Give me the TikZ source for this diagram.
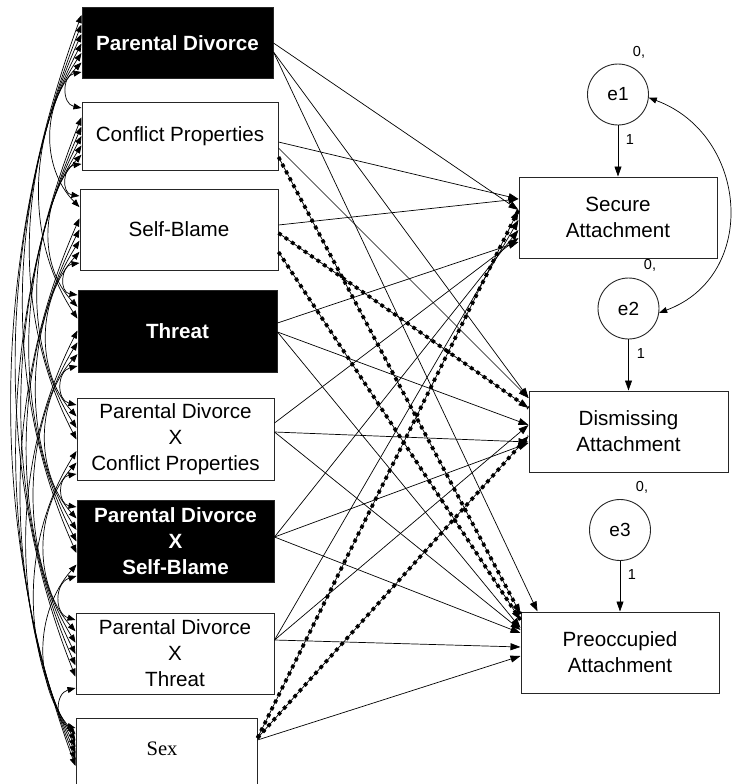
\documentclass[tikz,border=0pt]{standalone}
\usepackage{fontspec}
\setmainfont{Liberation Sans}
\newfontfamily\sexfont{Liberation Serif}
\usetikzlibrary{arrows.meta}
\begin{document}
\begin{tikzpicture}[x=1pt,y=-1pt,
  box/.style={draw=black!85, line width=1pt, fill=white, inner sep=0pt, align=center,
              font=\fontsize{20.6}{26}\selectfont},
  dark/.style={box, fill=black, text=white, font=\fontsize{20.6}{26}\selectfont\bfseries},
  err/.style={circle, draw=black!85, line width=0.9pt, minimum size=61pt, inner sep=0pt,
              font=\fontsize{19}{22}\selectfont},
  numlbl/.style={font=\fontsize{14.5}{16}\selectfont, inner sep=0pt},
  headed/.style={-{Triangle[length=10pt,width=7pt]}},
  reg/.style={draw, line width=0.7pt, headed},
  ns/.style={reg, postaction={draw, -, line width=3.6pt, dash pattern=on 3.6pt off 4.2pt}},
  cov/.style={draw, line width=0.7pt, {Triangle[length=8pt,width=6pt]}-{Triangle[length=8pt,width=6pt]}},
]
\useasboundingbox (0,0) rectangle (735,784);
\clip (0,0) rectangle (735,784);

% predictors
\node[dark, minimum width=191pt, minimum height=70pt] (b1) at (177.5,43) {Parental Divorce};
\node[box,  minimum width=196pt, minimum height=68pt] (b2) at (180,136) {Conflict Properties};
\node[box,  minimum width=198pt, minimum height=81pt] (b3) at (179,229.5) {Self-Blame};
\node[dark, minimum width=199pt, minimum height=82pt] (b4) at (177.5,331) {Threat};
\node[box,  minimum width=197pt, minimum height=82pt] (b5) at (175.5,439) {Parental Divorce\\X\\Conflict Properties};
\node[dark, minimum width=197pt, minimum height=82pt] (b6) at (175.5,541) {Parental Divorce\\X\\Self-Blame};
\node[box,  minimum width=198pt, minimum height=81pt] (b7) at (175,653.5) {Parental Divorce\\X\\Threat};
\node[box,  minimum width=181pt, minimum height=82pt] (b8) at (166.5,759) {};
\node[font=\sexfont\fontsize{20.6}{26}\selectfont, inner sep=0pt] (sexlbl) at (162,749) {Sex};

% outcomes
\node[box, minimum width=198pt, minimum height=81pt] (sec) at (618,217.5) {Secure\\Attachment};
\node[box, minimum width=199pt, minimum height=81pt] (dis) at (628.5,431.5) {Dismissing\\Attachment};
\node[box, minimum width=198pt, minimum height=81pt] (pre) at (620,652.5) {Preoccupied\\Attachment};

% residuals
\node[err] (e1) at (618,94.5) {e1};
\node[err] (e2) at (628.5,308.5) {e2};
\node[err] (e3) at (620,530) {e3};
\node[numlbl] (v1) at (639,52) {0,};
\node[numlbl] (v2) at (650,265) {0,};
\node[numlbl] (v3) at (642,487) {0,};
\node[numlbl] (w1) at (630,140) {1};
\node[numlbl] (w2) at (641,354) {1};
\node[numlbl] (w3) at (632,575) {1};

\draw[reg] (e1) -- (sec);
\draw[reg] (e2) -- (dis);
\draw[reg] (e3) -- (pre);
\draw[cov] (e1.-6) .. controls +(100,37) and +(100,-37) .. (e2.-8);

% covariances among the predictors, bulging to the left
\def\ys{{15,108,196,295,405,507,620,728}}
\def\ye{{72,164,263,366,474,576,688,766}}
\foreach \i in {0,...,6}{
  \pgfmathtruncatemacro\jfirst{\i+1}
  \foreach \j in {\jfirst,...,7}{
    \pgfmathsetmacro\posa{\i+7-\j}
    \pgfmathsetmacro\posb{\j-1-\i}
    \pgfmathsetmacro\ya{\ys[\i]+(\ye[\i]-\ys[\i])*\posa/6}
    \pgfmathsetmacro\yb{\ys[\j]+(\ye[\j]-\ys[\j])*\posb/6}
    \pgfmathsetmacro\chrd{\yb-\ya}
    \pgfmathsetmacro\sagit{2.45*sqrt(\chrd)}
    \pgfmathsetmacro\tang{2*atan(2*\sagit/\chrd)}
    \pgfmathsetmacro\offx{4*\sagit/3}
    \pgfmathsetmacro\offy{\offx/tan(\tang)}
    \pgfmathtruncatemacro\na{\i+1}
    \pgfmathtruncatemacro\nb{\j+1}
    \draw[cov] (b\na.west |- 0,\ya) .. controls +(-\offx,\offy) and +(-\offx,-\offy) .. (b\nb.west |- 0,\yb);
  }
}

% regression paths
\draw[reg] (b1.east |- 0,43)  -- (sec.west |- 0,210);
\draw[reg] (b1.east |- 0,52)  -- (dis.west |- 0,398);
\draw[reg] (b1.east |- 0,52)  -- ([xshift=17pt]pre.north west);
\draw[reg] (b2.east |- 0,142) -- (sec.west |- 0,199);
\draw[reg] (b2.east |- 0,148) -- (dis.west |- 0,398);
\draw[ns]  (b2.east |- 0,157) -- (pre.west |- 0,614);
\draw[reg] (b3.east |- 0,225) -- (sec.west |- 0,199);
\draw[ns]  (b3.east |- 0,233) -- (dis.west |- 0,408);
\draw[ns]  (b3.east |- 0,252) -- (pre.west |- 0,620);
\draw[reg] (b4.east |- 0,323) -- (sec.west |- 0,242);
\draw[reg] (b4.east |- 0,332) -- (dis.west |- 0,425);
\draw[reg] (b4.east |- 0,332) -- (pre.west |- 0,628);
\draw[reg] (b5.east |- 0,423) -- (sec.west |- 0,238);
\draw[reg] (b5.east |- 0,432) -- (dis.west |- 0,442);
\draw[reg] (b5.east |- 0,432) -- (pre.west |- 0,630);
\draw[reg] (b6.east |- 0,537) -- (sec.west |- 0,230);
\draw[reg] (b6.east |- 0,537) -- (dis.west |- 0,443);
\draw[reg] (b6.east |- 0,537) -- (pre.west |- 0,633);
\draw[reg] (b7.east |- 0,640) -- (sec.west |- 0,220);
\draw[reg] (b7.east |- 0,640) -- (dis.west |- 0,425);
\draw[reg] (b7.east |- 0,640) -- (pre.west |- 0,647);
\draw[ns]  (b8.east |- 0,738) -- (sec.west |- 0,210);
\draw[ns]  (b8.east |- 0,738) -- (dis.west |- 0,436);
\draw[reg] (b8.east |- 0,740) -- (pre.west |- 0,656);
\end{tikzpicture}
\end{document}
